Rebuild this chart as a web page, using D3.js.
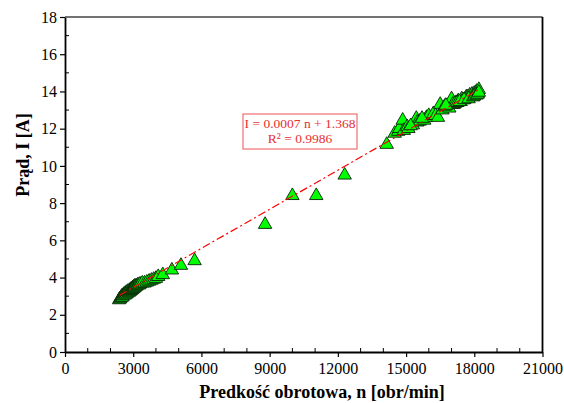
<!DOCTYPE html>
<html><head><meta charset="utf-8">
<script src="https://cdn.jsdelivr.net/npm/d3@7"></script>
<style>body{margin:0;background:#fff}svg{display:block}</style>
</head><body>
<script>
const speedN = [2380,2420,2450,2480,2500,2530,2560,2600,2620,2650,2680,2700,2730,2760,2800,2830,2850,2880,2900,2930,2950,2980,3000,3030,3050,3080,3100,3150,3200,3250,3300,3400,3500,3600,3700,3800,3900,4000,4100,4300,4700,5100,5700,
 8800,10000,11050,12300,14150,
 14500,14650,14700,14850,14900,15050,15100,15300,15450,15500,15600,15800,15900,16000,16200,16300,16400,16500,16600,16800,16900,17000,17100,17200,17300,17400,17450,17500,17600,17650,17700,17800,17850,17900,18000,18050,18100,18150,18200,
 17050,17150,17250,17350,17550,17750,17950,18000,18100,18150,18200,16700,16750,15700,15200];
const currentI = [2.8,2.85,2.9,2.95,3.0,2.95,3.05,3.1,3.05,3.15,3.1,3.2,3.15,3.25,3.2,3.3,3.25,3.35,3.3,3.4,3.35,3.45,3.4,3.5,3.45,3.55,3.5,3.55,3.6,3.6,3.65,3.7,3.7,3.75,3.8,3.85,3.9,3.95,4.05,4.15,4.4,4.65,4.9,
 6.85,8.4,8.4,9.5,11.15,
 11.75,11.85,12.0,12.45,11.9,12.1,12.0,12.2,12.55,12.35,12.4,12.45,12.6,12.7,12.8,12.7,12.6,13.3,13.0,13.2,13.1,13.6,13.3,13.4,13.5,13.45,13.6,13.55,13.6,13.7,13.7,13.8,13.75,13.85,13.9,13.85,14.0,13.9,14.1,
 13.3,13.35,13.4,13.45,13.55,13.6,13.7,13.75,13.8,13.85,13.95,13.2,13.25,12.55,12.15];
const xTicks = [0,3000,6000,9000,12000,15000,18000,21000];
const yTicks = [0,2,4,6,8,10,12,14,16,18];
const fitSlope = 0.0007, fitIntercept = 1.368;
const fitRange = [2400, 18200];
const eqLines = ["I = 0.0007 n + 1.368", "R² = 0.9986"];
const xTitle = "Predkość obrotowa, n [obr/min]";
const yTitle = "Prąd, I [A]";

const W=564,H=403;
const L=65,R=542.5,T=17,B=352;
const svg=d3.select("body").append("svg").attr("width",W).attr("height",H);
const x=d3.scaleLinear().domain([0,21000]).range([L,R]);
const y=d3.scaleLinear().domain([0,18]).range([B,T]);
const font="'Liberation Serif','Times New Roman',serif";

// minor ticks (inside)
const xMinor=d3.range(0,21001,1000).filter(v=>v%3000!==0);
const yMinor=d3.range(1,18,2);
svg.append("g").selectAll("line").data(xMinor).join("line")
 .attr("x1",d=>x(d)).attr("x2",d=>x(d)).attr("y1",B).attr("y2",B-4)
 .attr("stroke","#000").attr("stroke-width",1);
svg.append("g").selectAll("line").data(yMinor).join("line")
 .attr("y1",d=>y(d)).attr("y2",d=>y(d)).attr("x1",L).attr("x2",L+4)
 .attr("stroke","#000").attr("stroke-width",1);

// axes
const xAxis=svg.append("g").attr("transform",`translate(0,${B})`)
 .call(d3.axisBottom(x).tickValues(xTicks).tickFormat(d3.format("d")).tickSize(5).tickSizeOuter(0));
const yAxis=svg.append("g").attr("transform",`translate(${L},0)`)
 .call(d3.axisLeft(y).tickValues(yTicks).tickSize(5).tickSizeOuter(0));
[xAxis,yAxis].forEach(g=>{
 g.select(".domain").attr("stroke","#000").attr("stroke-width",1.8);
 g.selectAll(".tick line").attr("stroke","#000").attr("stroke-width",1.2);
 g.selectAll(".tick text").attr("font-family",font).attr("font-size",16).attr("fill","#000");
});
xAxis.selectAll(".tick text").attr("dy","0.95em").attr("y",7);
yAxis.selectAll(".tick text").attr("x",-8);

// frame top/right
svg.append("line").attr("x1",L).attr("x2",R).attr("y1",T).attr("y2",T).attr("stroke","#444").attr("stroke-width",1.5);
svg.append("line").attr("x1",R).attr("x2",R).attr("y1",T).attr("y2",B).attr("stroke","#000").attr("stroke-width",1.8);

// points
const pts=speedN.map((n,i)=>({n,I:currentI[i]}));
const tri=d3.symbol(d3.symbolTriangle,78);
svg.append("g").selectAll("path").data(pts).join("path")
 .attr("d",tri).attr("transform",d=>`translate(${x(d.n)},${y(d.I)})`)
 .attr("fill","#00ff00").attr("stroke","#0a200a").attr("stroke-width",0.9);

// fit line
svg.append("line")
 .attr("x1",x(fitRange[0])).attr("y1",y(fitSlope*fitRange[0]+fitIntercept))
 .attr("x2",x(fitRange[1])).attr("y2",y(fitSlope*fitRange[1]+fitIntercept))
 .attr("stroke","#ff0000").attr("stroke-width",1.2).attr("stroke-dasharray","8,3,2,3");

// equation box
const bx=243,by=114,bw=114,bh=35;
svg.append("rect").attr("x",bx).attr("y",by).attr("width",bw).attr("height",bh)
 .attr("fill","#fff").attr("stroke","#f07070").attr("stroke-width",1.2);
svg.append("g").selectAll("text").data(eqLines).join("text")
 .attr("x",bx+bw/2).attr("y",(d,i)=>by+14+i*15).attr("text-anchor","middle")
 .attr("font-family",font).attr("font-size",13.5).attr("fill","#e83030").text(d=>d);

// titles
svg.append("text").attr("x",322).attr("y",398).attr("text-anchor","middle")
 .attr("font-family",font).attr("font-weight","bold").attr("font-size",18).text(xTitle);
svg.append("text").attr("transform","translate(29,155) rotate(-90)").attr("text-anchor","middle")
 .attr("font-family",font).attr("font-weight","bold").attr("font-size",18).text(yTitle);
</script>
</body></html>
